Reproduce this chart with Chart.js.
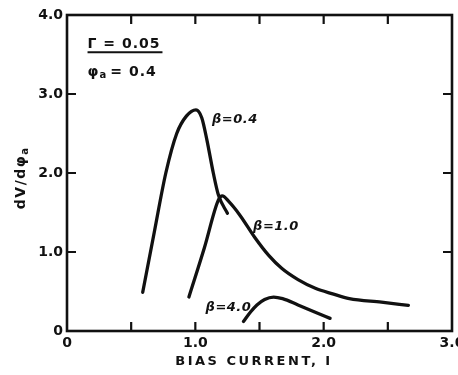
<!DOCTYPE html>
<html>
<head>
<meta charset="utf-8">
<script src="https://cdn.jsdelivr.net/npm/chart.js@4.4.1/dist/chart.umd.min.js"></script>
<style>
  body { margin: 0; background: #fff; }
  canvas { display: block; }
</style>
</head>
<body>
<canvas id="chart" width="458" height="375"></canvas>
<script>
// dV/dphi_a versus bias current for three values of beta
var beta04X = [0.59, 0.68, 0.77, 0.855, 0.93, 1.005, 1.05, 1.09, 1.14, 1.18, 1.25];
var beta04Y = [0.49, 1.25, 2.00, 2.50, 2.72, 2.80, 2.70, 2.42, 2.00, 1.72, 1.49];

var beta10X = [0.95, 1.07, 1.18, 1.21, 1.26, 1.35, 1.465, 1.57, 1.675, 1.80, 1.935, 2.07, 2.20, 2.45, 2.66];
var beta10Y = [0.43, 1.05, 1.66, 1.71, 1.64, 1.46, 1.18, 0.96, 0.79, 0.65, 0.54, 0.47, 0.41, 0.365, 0.325];

var beta40X = [1.375, 1.43, 1.48, 1.54, 1.61, 1.68, 1.80, 1.93, 2.05];
var beta40Y = [0.12, 0.24, 0.33, 0.40, 0.43, 0.41, 0.33, 0.24, 0.16];

var xTickMarks = [0.5, 1.0, 1.5, 2.0, 2.5];
var yTickMarks = [1, 2, 3];

// curve labels: text and where it sits (data units, left edge / middle)
var curveLabels = [
    { text: 'β=0.4', x: 1.13, y: 2.67 },
    { text: 'β=1.0', x: 1.45, y: 1.32 },
    { text: 'β=4.0', x: 1.08, y: 0.30 }
];

var ink = '#111';
var fontFamily = '"DejaVu Sans", sans-serif';

function toPoints(xs, ys) {
    return xs.map(function (x, i) { return { x: x, y: ys[i] }; });
}

function curve(xs, ys) {
    return {
        data: toPoints(xs, ys),
        borderColor: ink,
        borderWidth: 3.3,
        pointRadius: 0,
        fill: false,
        cubicInterpolationMode: 'monotone',
        borderCapStyle: 'round'
    };
}

// frame, inward ticks and all the lettering
var framePlugin = {
    id: 'frame',
    afterDraw: function (chart) {
        var ctx = chart.ctx;
        var a = chart.chartArea;
        var xs = chart.scales.x, ys = chart.scales.y;
        var len = 9;

        ctx.save();
        ctx.strokeStyle = ink;
        ctx.lineWidth = 2.6;
        ctx.strokeRect(a.left, a.top, a.right - a.left, a.bottom - a.top);

        ctx.lineWidth = 2.2;
        ctx.beginPath();
        xTickMarks.forEach(function (v) {
            var px = xs.getPixelForValue(v);
            ctx.moveTo(px, a.bottom); ctx.lineTo(px, a.bottom - len);
            ctx.moveTo(px, a.top); ctx.lineTo(px, a.top + len);
        });
        yTickMarks.forEach(function (v) {
            var py = ys.getPixelForValue(v);
            ctx.moveTo(a.left, py); ctx.lineTo(a.left + len, py);
            ctx.moveTo(a.right, py); ctx.lineTo(a.right - len, py);
        });
        ctx.stroke();

        ctx.fillStyle = ink;
        ctx.textBaseline = 'middle';

        // x axis title
        ctx.font = 'bold 13px ' + fontFamily;
        ctx.letterSpacing = '2.5px';
        ctx.textAlign = 'center';
        ctx.fillText('BIAS CURRENT, I', 254, 362);

        // y axis title, rotated
        ctx.save();
        ctx.translate(21, 178);
        ctx.rotate(-Math.PI / 2);
        ctx.font = 'bold 14px ' + fontFamily;
        ctx.letterSpacing = '1.5px';
        ctx.textAlign = 'left';
        var main = 'dV/dφ';
        var w = ctx.measureText(main).width;
        ctx.fillText(main, -(w + 8) / 2, 0);
        ctx.font = 'bold 10px ' + fontFamily;
        ctx.letterSpacing = '0px';
        ctx.fillText('a', -(w + 8) / 2 + w, 4);
        ctx.restore();

        // parameter box in the upper left
        ctx.letterSpacing = '1px';
        ctx.textAlign = 'left';
        ctx.font = 'bold 14px ' + fontFamily;
        var px0 = xs.getPixelForValue(0.16);
        var g = 'Γ = 0.05';
        ctx.fillText(g, px0, ys.getPixelForValue(3.63));
        var gw = ctx.measureText(g).width;
        ctx.lineWidth = 2;
        ctx.beginPath();
        ctx.moveTo(px0, ys.getPixelForValue(3.53));
        ctx.lineTo(px0 + gw + 2, ys.getPixelForValue(3.53));
        ctx.stroke();

        var py = ys.getPixelForValue(3.28);
        ctx.fillText('φ', px0, py);
        var fw = ctx.measureText('φ').width;
        ctx.font = 'bold 10px ' + fontFamily;
        ctx.fillText('a', px0 + fw, py + 4);
        ctx.font = 'bold 14px ' + fontFamily;
        ctx.fillText(' = 0.4', px0 + fw + 5, py);

        // beta labels
        ctx.letterSpacing = '0.5px';
        ctx.font = 'italic bold 13px ' + fontFamily;
        curveLabels.forEach(function (l) {
            ctx.fillText(l.text, xs.getPixelForValue(l.x), ys.getPixelForValue(l.y));
        });
        ctx.restore();
    }
};

var tickFont = { family: fontFamily, size: 14, weight: 'bold' };

var chart = new Chart(document.getElementById('chart'), {
    type: 'line',
    data: {
        datasets: [
            curve(beta04X, beta04Y),
            curve(beta10X, beta10Y),
            curve(beta40X, beta40Y)
        ]
    },
    options: {
        responsive: false,
        animation: false,
        events: [],
        layout: { padding: { top: 15, right: 6, left: 0, bottom: 0 } },
        plugins: {
            legend: { display: false },
            tooltip: { enabled: false }
        },
        scales: {
            x: {
                type: 'linear',
                min: 0,
                max: 3,
                grid: { display: false, drawTicks: false },
                border: { display: false },
                ticks: {
                    stepSize: 1,
                    padding: 4,
                    color: ink,
                    font: tickFont,
                    callback: function (v) { return v === 0 ? '0' : v.toFixed(1); }
                },
                afterFit: function (scale) {
                    scale.height = 44;
                    // let the last label run off the right edge
                    scale.paddingLeft = 0;
                    scale.paddingRight = 0;
                }
            },
            y: {
                type: 'linear',
                min: 0,
                max: 4,
                grid: { display: false, drawTicks: false },
                border: { display: false },
                ticks: {
                    stepSize: 1,
                    padding: 4,
                    color: ink,
                    font: tickFont,
                    callback: function (v) { return v === 0 ? '0' : v.toFixed(1); }
                },
                afterFit: function (scale) { scale.width = 67; }
            }
        }
    },
    plugins: [framePlugin]
});
</script>
</body>
</html>
